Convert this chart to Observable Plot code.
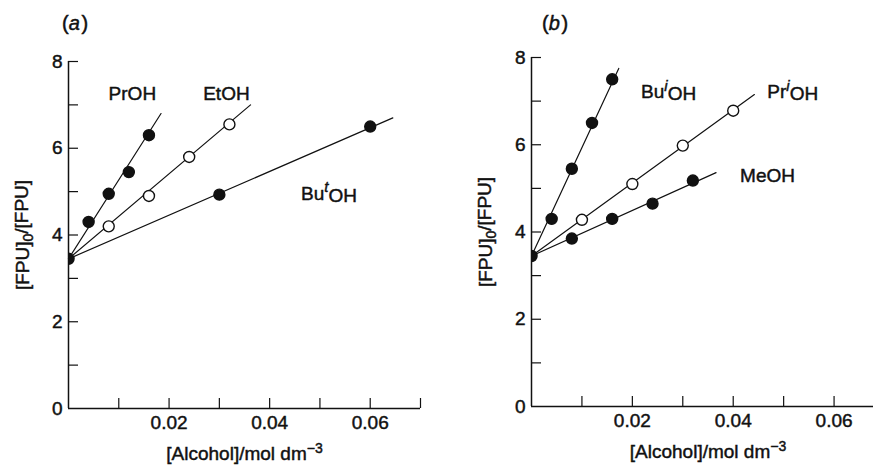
<!DOCTYPE html>
<html>
<head>
<meta charset="utf-8">
<script src="https://cdn.jsdelivr.net/npm/d3@7"></script>
<script src="https://cdn.jsdelivr.net/npm/@observablehq/plot@0.6"></script>
<style>
  html, body { margin: 0; padding: 0; background: #fff; overflow: hidden; }
  #wrap { position: relative; width: 873px; height: 465px; overflow: hidden; font-family: "Liberation Sans", Arial, sans-serif; color: #111; }
  .panel { position: absolute; top: 0; }
  .panel svg { max-width: none !important; }
  .panel text { stroke: #111; stroke-width: 0.45px; }
  .tag { position: absolute; top: 12px; font-size: 20px; -webkit-text-stroke: 0.45px #111; }
</style>
</head>
<body>
<div id="wrap">
  <div class="panel" id="pa" style="left:0; width:436px"></div>
  <div class="panel" id="pb" style="left:436px; width:460px"></div>
  <div class="tag" style="left:62px">(<i>a</i>&#8202;)</div>
  <div class="tag" style="left:542px">(<i>b</i>&#8202;)</div>
</div>
<script>
// ---- shared data ----
const intercept = 3.45;
const xTicks = [0.01, 0.02, 0.03, 0.04, 0.05, 0.06, 0.07];
const xLabels = [0.02, 0.04, 0.06];
const yTicks = [1, 2, 3, 4, 5, 6, 7, 8];
const yLabels = [0, 2, 4, 6, 8];

// ---- panel (a) ----
const aPrOH_x = [0.004, 0.008, 0.012, 0.016];
const aPrOH_y = [4.3, 4.95, 5.45, 6.3];
const aPrOH_end = [0.0184, 6.8];
const aEtOH_x = [0.008, 0.016, 0.024, 0.032];
const aEtOH_y = [4.2, 4.9, 5.8, 6.55];
const aEtOH_end = [0.0362, 7.0];
const aButOH_x = [0.03, 0.06];
const aButOH_y = [4.93, 6.5];
const aButOH_end = [0.0645, 6.7];
const aLabelText = ["PrOH", "EtOH", "Bu^tOH"];
const aLabelX = [0.0127, 0.0314, 0.0518];
const aLabelY = [7.26, 7.26, 4.95];

// ---- panel (b) ----
const bBuiOH_x = [0.004, 0.008, 0.012, 0.016];
const bBuiOH_y = [4.3, 5.45, 6.5, 7.5];
const bBuiOH_end = [0.0173, 7.75];
const bPriOH_x = [0.01, 0.02, 0.03, 0.04];
const bPriOH_y = [4.28, 5.1, 5.98, 6.78];
const bPriOH_end = [0.0442, 7.15];
const bMeOH_x = [0.008, 0.016, 0.024, 0.032];
const bMeOH_y = [3.85, 4.3, 4.65, 5.18];
const bMeOH_end = [0.0366, 5.36];
const bLabelText = ["Bu^iOH", "Pr^iOH", "MeOH"];
const bLabelX = [0.0272, 0.0518, 0.0468];
const bLabelY = [7.2, 7.21, 5.28];

const INK = "#111";

function series(xs, ys, end, open) {
  return {
    pts: xs.map((x, i) => ({x, y: ys[i]})),
    line: [{x: 0, y: intercept}, {x: end[0], y: end[1]}],
    open
  };
}

function panel(el, cfg) {
  const marks = [
    Plot.ruleX([0], {stroke: INK, strokeWidth: 1.5}),
    Plot.ruleY([0], {stroke: INK, strokeWidth: 1.5}),
    Plot.axisY({ticks: yTicks, tickSize: -10, tickFormat: () => "", stroke: INK, strokeWidth: 1.2, label: null}),
    Plot.axisY({ticks: yLabels, tickSize: 0, tickPadding: 6, tickFormat: d => String(d), fill: INK,
                label: "[FPU]0/[FPU]", labelAnchor: "center", labelOffset: 53, labelArrow: false}),
    Plot.axisX({ticks: xTicks, tickSize: -10, tickFormat: () => "", stroke: INK, strokeWidth: 1.2, label: null}),
    Plot.axisX({ticks: xLabels, tickSize: 0, tickPadding: 7, tickFormat: d => d.toFixed(2), fill: INK,
                label: "[Alcohol]/mol dm-3", labelAnchor: "center", labelOffset: 51, labelArrow: false})
  ];
  for (const s of cfg.series) {
    marks.push(Plot.line(s.line, {x: "x", y: "y", stroke: INK, strokeWidth: 1.2}));
  }
  for (const s of cfg.series) {
    marks.push(Plot.dot(s.pts, {x: "x", y: "y", r: 5.5, stroke: INK, strokeWidth: 1.4,
                                fill: s.open ? "#fff" : INK}));
  }
  marks.push(Plot.dot([{x: 0, y: intercept}], {x: "x", y: "y", r: 5.5, fill: INK, stroke: INK, clip: true}));
  const labels = cfg.labelText.map((t, i) => ({t, x: cfg.labelX[i], y: cfg.labelY[i]}));
  marks.push(Plot.text(labels, {x: "x", y: "y", text: "t", fill: INK, fontSize: 19}));

  const svg = Plot.plot({
    width: cfg.width, height: 465,
    marginLeft: cfg.ml, marginRight: cfg.mr, marginTop: cfg.mt, marginBottom: cfg.mb,
    x: {domain: [0, 0.07], axis: null},
    y: {domain: [0, 8], axis: null},
    style: {fontFamily: '"Liberation Sans", Arial, sans-serif', fontSize: "19px", color: INK,
            background: "transparent", overflow: "visible", maxWidth: "none"},
    marks
  });
  el.appendChild(svg);

  // superscripts / subscripts in texts
  d3.select(svg).selectAll("text").each(function() {
    const t = this.textContent;
    const m = /^(\w+)\^(\w)(\w+)$/.exec(t);
    if (m) {
      const sel = d3.select(this).text("");
      sel.append("tspan").text(m[1]);
      sel.append("tspan").attr("dy", "-0.5em").attr("font-size", "15px").attr("font-style", "italic").text(m[2]);
      sel.append("tspan").attr("dy", "0.5em").text(m[3]);
    } else if (t === "[FPU]0/[FPU]") {
      const sel = d3.select(this).text("");
      sel.append("tspan").text("[FPU]");
      sel.append("tspan").attr("dy", "0.3em").attr("font-size", "14px").text("0");
      sel.append("tspan").attr("dy", "-0.3em").text("/[FPU]");
    } else if (t === "[Alcohol]/mol dm-3") {
      const sel = d3.select(this).text("");
      sel.append("tspan").text("[Alcohol]/mol dm");
      sel.append("tspan").attr("dy", "-0.5em").attr("font-size", "14px").text("\u22123");
    }
  });
}

panel(document.getElementById("pa"), {
  width: 436, ml: 68, mr: 16, mt: 61, mb: 57,
  series: [series(aPrOH_x, aPrOH_y, aPrOH_end, false),
           series(aEtOH_x, aEtOH_y, aEtOH_end, true),
           series(aButOH_x, aButOH_y, aButOH_end, false)],
  labelText: aLabelText, labelX: aLabelX, labelY: aLabelY
});
panel(document.getElementById("pb"), {
  width: 460, ml: 95, mr: 12, mt: 57, mb: 59,
  series: [series(bBuiOH_x, bBuiOH_y, bBuiOH_end, false),
           series(bPriOH_x, bPriOH_y, bPriOH_end, true),
           series(bMeOH_x, bMeOH_y, bMeOH_end, false)],
  labelText: bLabelText, labelX: bLabelX, labelY: bLabelY
});
</script>
</body>
</html>
